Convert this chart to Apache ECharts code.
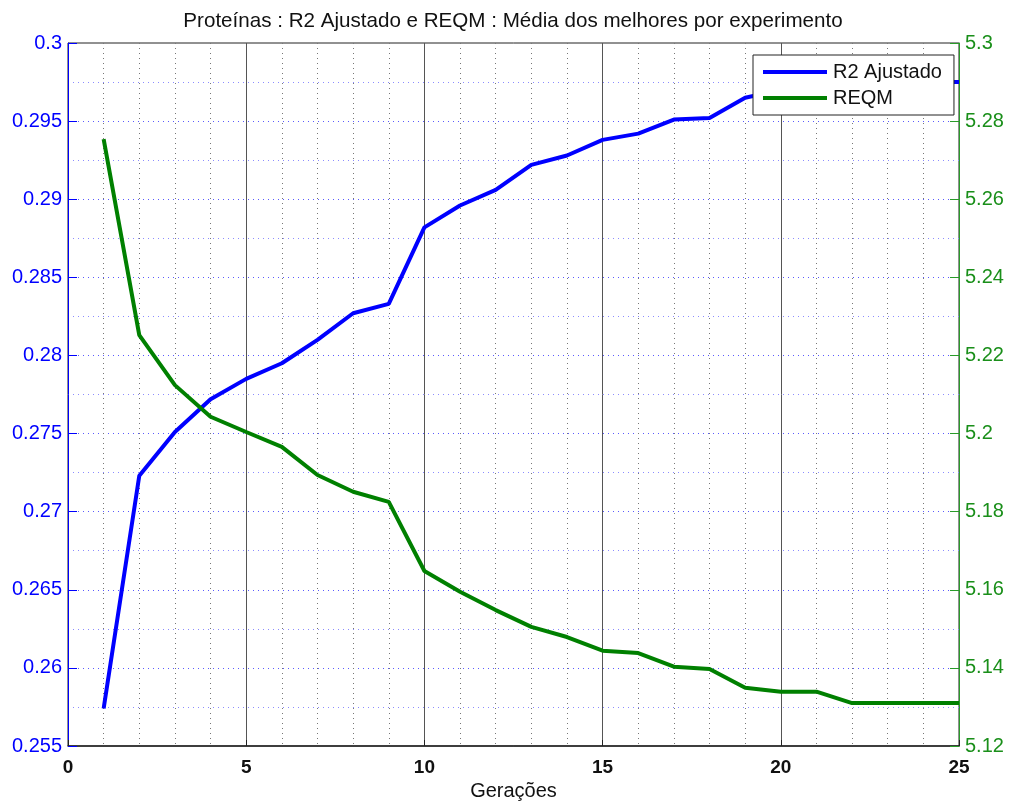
<!DOCTYPE html>
<html>
<head>
<meta charset="utf-8">
<title>Proteínas : R2 Ajustado e REQM</title>
<script src="https://cdn.jsdelivr.net/npm/echarts@6/dist/echarts.min.js"></script>
<style>
  html, body { margin: 0; padding: 0; background: #ffffff; }
  #chart { width: 1010px; height: 803px; }
</style>
</head>
<body>
<div id="chart"></div>
<script>
// Generations (x axis)
const generations = [1, 2, 3, 4, 5, 6, 7, 8, 9, 10, 11, 12, 13, 14, 15, 16, 17, 18, 19, 20, 21, 22, 23, 24, 25];

// Mean of the best adjusted R2 per experiment (left axis)
const r2Ajustado = [0.2574, 0.2723, 0.2751, 0.2772, 0.2785, 0.2795, 0.2810, 0.2827, 0.2833, 0.2882,
                    0.2896, 0.2906, 0.2922, 0.2928, 0.2938, 0.2942, 0.2951, 0.2952, 0.2965, 0.2970,
                    0.2972, 0.2975, 0.2975, 0.2975, 0.2975];

// Mean of the best RMSE (REQM) per experiment (right axis)
const reqm = [5.2754, 5.2252, 5.2124, 5.2043, 5.2004, 5.1966, 5.1894, 5.1851, 5.1825, 5.1648,
              5.1595, 5.1548, 5.1505, 5.1479, 5.1444, 5.1438, 5.1403, 5.1397, 5.1349, 5.1339,
              5.1339, 5.1310, 5.1310, 5.1310, 5.1310];

// Axis ranges and tick steps
const xRange = { min: 0, max: 25, step: 5 };
const leftRange = { min: 0.255, max: 0.3, step: 0.005 };
const rightRange = { min: 5.12, max: 5.3, step: 0.02 };

const titleText = 'Proteínas : R2 Ajustado e REQM : Média dos melhores por experimento';
const xName = 'Gerações';
const seriesNames = ['R2 Ajustado', 'REQM'];

const BLUE = '#0000ff';
const GREEN = '#008000';
const FONT = 'Liberation Sans, Arial, sans-serif';

const chart = echarts.init(document.getElementById('chart'), null, { renderer: 'canvas' });

const fmtLeft = v => String(parseFloat(v.toFixed(3)));
const fmtRight = v => String(parseFloat(v.toFixed(2)));

chart.setOption({
  animation: false,
  backgroundColor: '#ffffff',
  title: {
    text: titleText,
    left: 513,
    top: 10,
    padding: 0,
    textAlign: 'center',
    textStyle: { fontFamily: FONT, fontSize: 20.6, fontWeight: 'normal', color: '#111', lineHeight: 22 }
  },
  grid: {
    left: 68, right: 51, top: 43, bottom: 57,
    outerBoundsMode: 'none',
    containLabel: false,
    show: true, borderColor: '#222', borderWidth: 1, backgroundColor: '#ffffff'
  },
  legend: {
    data: seriesNames,
    orient: 'vertical',
    left: 753,
    top: 55,
    padding: [7, 12, 7, 10],
    itemGap: 6,
    itemWidth: 64,
    itemHeight: 4,
    icon: 'rect',
    backgroundColor: '#ffffff',
    borderColor: '#222',
    borderWidth: 1,
    textStyle: { fontFamily: FONT, fontSize: 20, color: '#111', padding: [0, 0, 0, 1], lineHeight: 20 }
  },
  xAxis: {
    type: 'value',
    min: xRange.min,
    max: xRange.max,
    interval: xRange.step,
    name: xName,
    nameLocation: 'middle',
    nameGap: 35,
    nameTextStyle: { fontFamily: FONT, fontSize: 20, color: '#111' },
    axisLine: { show: true, lineStyle: { color: '#222', width: 1.5 } },
    axisTick: { show: true, inside: true, length: 6, lineStyle: { color: '#222' } },
    axisLabel: { fontFamily: FONT, fontSize: 19, fontWeight: 'bold', color: '#111', margin: 12 },
    splitLine: { show: true, showMinLine: false, showMaxLine: false, lineStyle: { color: '#555', width: 1, type: 'solid' } },
    minorTick: { show: false, splitNumber: 5 },
    minorSplitLine: { show: true, lineStyle: { color: '#777', width: 1, type: [1, 4] } }
  },
  yAxis: [
    {
      type: 'value',
      position: 'left',
      min: leftRange.min,
      max: leftRange.max,
      interval: leftRange.step,
      axisLine: { show: true, lineStyle: { color: BLUE, width: 1 } },
      axisTick: { show: true, inside: true, length: 9, lineStyle: { color: BLUE } },
      axisLabel: { fontFamily: FONT, fontSize: 20, color: BLUE, margin: 6, formatter: fmtLeft },
      splitLine: { show: true, showMinLine: false, showMaxLine: false, lineStyle: { color: '#5a5aff', width: 1, type: [1, 4] } },
      minorTick: { show: false, splitNumber: 2 },
      minorSplitLine: { show: true, lineStyle: { color: '#8c8cff', width: 1, type: [1, 4] } }
    },
    {
      type: 'value',
      position: 'right',
      min: rightRange.min,
      max: rightRange.max,
      interval: rightRange.step,
      axisLine: { show: true, lineStyle: { color: '#2a9a2a', width: 1 } },
      axisTick: { show: true, inside: true, length: 9, lineStyle: { color: '#2a9a2a' } },
      axisLabel: { fontFamily: FONT, fontSize: 20, color: '#1a8f1a', margin: 6, formatter: fmtRight },
      splitLine: { show: false }
    }
  ],
  series: [
    {
      name: seriesNames[0],
      type: 'line',
      yAxisIndex: 0,
      data: generations.map((g, i) => [g, r2Ajustado[i]]),
      showSymbol: false,
      symbol: 'none',
      lineStyle: { color: BLUE, width: 4 },
      itemStyle: { color: BLUE },
      z: 3
    },
    {
      name: seriesNames[1],
      type: 'line',
      yAxisIndex: 1,
      data: generations.map((g, i) => [g, reqm[i]]),
      showSymbol: false,
      symbol: 'none',
      lineStyle: { color: GREEN, width: 4 },
      itemStyle: { color: GREEN },
      z: 3
    }
  ]
});
</script>
</body>
</html>
